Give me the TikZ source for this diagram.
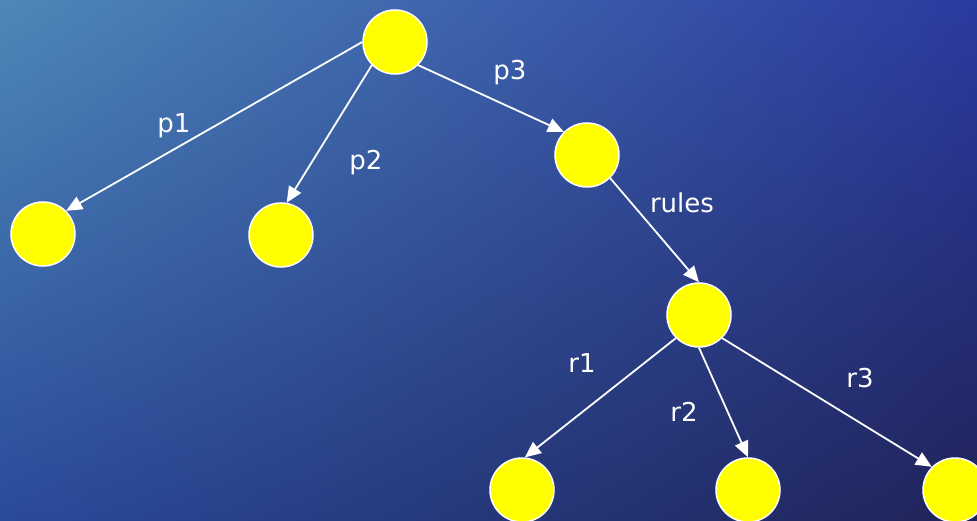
\documentclass[tikz,border=0pt]{standalone}
\usepackage{fontspec}
\setmainfont{DejaVu Sans}
\usetikzlibrary{arrows.meta, shadings}
\tikzset{>=stealth}
\definecolor{seatop}{HTML}{4E88B8}
\definecolor{seatopr}{HTML}{2B3AA0}
\definecolor{seabot}{HTML}{2A4A9A}
\definecolor{seabotr}{HTML}{202358}
\definecolor{ballfill}{RGB}{255,255,0}
\tikzset{
	ball/.style = {circle, draw = white, line width = 1.5pt, fill = ballfill, minimum size = 64pt, inner sep = 0pt},
	edge/.style = {-{Triangle[length = 16pt, width = 14pt]}, white, line width = 1.8pt},
	lbl/.style = {text = white, anchor = base, font = \fontsize{26}{30}\selectfont}
}

\begin{document}
\begin{tikzpicture}[x = 1pt, y = -1pt]
	\useasboundingbox (0,0) rectangle (977,521);
	\clip (0,0) rectangle (977,521);
	\shade[upper left = seatop, upper right = seatopr, lower left = seabot, lower right = seabotr] (0,0) rectangle (977,521);
	\node[ball] (root) at (395,42) {};
	\node[ball] (pa) at (43,234) {};
	\node[ball] (pb) at (281,235) {};
	\node[ball] (pc) at (587,155) {};
	\node[ball] (rul) at (699,315) {};
	\node[ball] (ra) at (522,490) {};
	\node[ball] (rb) at (748,490) {};
	\node[ball] (rc) at (955,490) {};
	% connectors leave and enter at fixed points, as in the slide
	\draw[edge] (root.west) -- (pa.north east);
	\draw[edge] (root.south west) -- (pb.80);
	\draw[edge] (root.south east) -- (pc.north west);
	\draw[edge] (pc.south east) -- (rul.north);
	\draw[edge] (rul.south west) -- (ra.85);
	\draw[edge] (rul.south) -- (rb.north);
	\draw[edge] (rul.south east) -- (rc.north west);
	\node[lbl] (lpa) at (174,133) {p1};
	\node[lbl] (lpb) at (366,170) {p2};
	\node[lbl] (lpc) at (510,80) {p3};
	\node[lbl] (lrul) at (682,213) {rules};
	\node[lbl] (lra) at (582,372) {r1};
	\node[lbl] (lrb) at (684,421) {r2};
	\node[lbl] (lrc) at (860,387) {r3};
\end{tikzpicture}
\end{document}
